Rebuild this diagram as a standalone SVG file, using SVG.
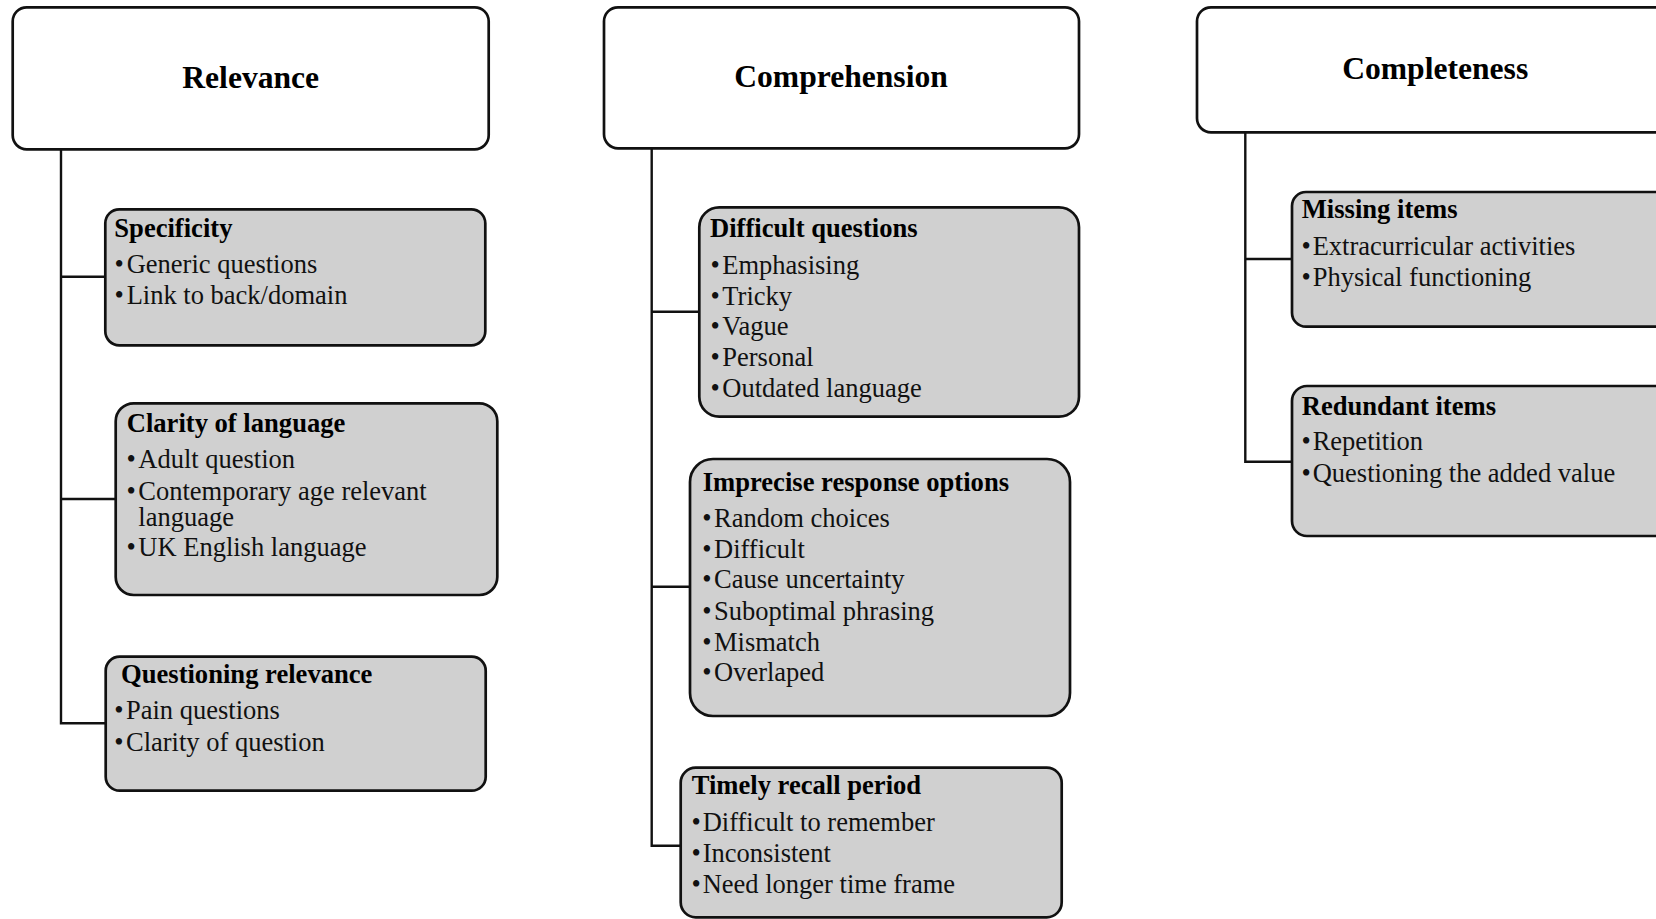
<svg xmlns="http://www.w3.org/2000/svg" width="1656" height="919" viewBox="0 0 1656 919">
  <style>
    .root { fill: #ffffff; stroke: #111111; stroke-width: 2.7; }
    .sub { fill: #d0d0d0; stroke: #111111; stroke-width: 2.7; }
    .title { font-family: "Liberation Serif", "Times New Roman", serif; font-weight: bold; font-size: 31.6px; fill: #000; text-anchor: middle; }
    .head { font-family: "Liberation Serif", "Times New Roman", serif; font-weight: bold; font-size: 26.6px; fill: #000; }
    .item { font-family: "Liberation Serif", "Times New Roman", serif; font-size: 26.5px; fill: #111; }
    .conn { fill: none; stroke: #111111; stroke-width: 2.4; }
  </style>
  <rect width="1656" height="919" fill="#ffffff"/>

  <!-- tree connectors -->
  <g id="connectors">
    <path class="conn" d="M61 149 V723.3 H105.7"/>
    <path class="conn" d="M61 276.7 H105.3"/>
    <path class="conn" d="M61 499 H115.7"/>
    <path class="conn" d="M651.7 148.3 V845.7 H680.7"/>
    <path class="conn" d="M651.7 311.7 H699.3"/>
    <path class="conn" d="M651.7 586.7 H690"/>
    <path class="conn" d="M1245.3 132.3 V461.7 H1292"/>
    <path class="conn" d="M1245.3 259 H1292"/>
  </g>

  <!-- Relevance column -->
  <g id="relevance">
    <rect class="root" x="12.7" y="7.3" width="476" height="142" rx="14"/>
    <text class="title" x="250.7" y="88.3">Relevance</text>
  </g>
  <g id="specificity">
    <rect class="sub" x="105.3" y="209.3" width="380" height="136" rx="14"/>
    <text class="head" x="114.3" y="236.7">Specificity</text>
    <text class="item" y="272.7"><tspan x="114.5">•</tspan><tspan x="126.7">Generic questions</tspan></text>
    <text class="item" y="304"><tspan x="114.5">•</tspan><tspan x="126.7">Link to back/domain</tspan></text>
  </g>
  <g id="clarity-of-language">
    <rect class="sub" x="115.7" y="403.3" width="381.6" height="191.7" rx="18"/>
    <text class="head" x="126.7" y="432.3">Clarity of language</text>
    <text class="item" y="468.3"><tspan x="126.5">•</tspan><tspan x="138.3">Adult question</tspan></text>
    <text class="item" y="500"><tspan x="126.5">•</tspan><tspan x="138.3">Contemporary age relevant</tspan></text>
    <text class="item" x="138.3" y="526">language</text>
    <text class="item" y="556"><tspan x="126.5">•</tspan><tspan x="138.3">UK English language</tspan></text>
  </g>
  <g id="questioning-relevance">
    <rect class="sub" x="105.7" y="656.7" width="380" height="134" rx="14"/>
    <text class="head" x="121" y="683.3">Questioning relevance</text>
    <text class="item" y="719.3"><tspan x="114.3">•</tspan><tspan x="126">Pain questions</tspan></text>
    <text class="item" y="751"><tspan x="114.3">•</tspan><tspan x="126">Clarity of question</tspan></text>
  </g>

  <!-- Comprehension column -->
  <g id="comprehension">
    <rect class="root" x="604" y="7.3" width="475" height="141" rx="14"/>
    <text class="title" x="841" y="87.3">Comprehension</text>
  </g>
  <g id="difficult-questions">
    <rect class="sub" x="699.3" y="207.3" width="379.7" height="209.4" rx="20"/>
    <text class="head" x="710" y="237.3">Difficult questions</text>
    <text class="item" y="274"><tspan x="710.5">•</tspan><tspan x="722.3">Emphasising</tspan></text>
    <text class="item" y="304.7"><tspan x="710.5">•</tspan><tspan x="722.3">Tricky</tspan></text>
    <text class="item" y="335.4"><tspan x="710.5">•</tspan><tspan x="722.3">Vague</tspan></text>
    <text class="item" y="366.1"><tspan x="710.5">•</tspan><tspan x="722.3">Personal</tspan></text>
    <text class="item" y="396.8"><tspan x="710.5">•</tspan><tspan x="722.3">Outdated language</tspan></text>
  </g>
  <g id="imprecise-response-options">
    <rect class="sub" x="690" y="459" width="380" height="257" rx="23"/>
    <text class="head" x="702.7" y="490.7">Imprecise response options</text>
    <text class="item" y="526.7"><tspan x="702.3">•</tspan><tspan x="714">Random choices</tspan></text>
    <text class="item" y="557.5"><tspan x="702.3">•</tspan><tspan x="714">Difficult</tspan></text>
    <text class="item" y="588.3"><tspan x="702.3">•</tspan><tspan x="714">Cause uncertainty</tspan></text>
    <text class="item" y="619.5"><tspan x="702.3">•</tspan><tspan x="714">Suboptimal phrasing</tspan></text>
    <text class="item" y="650.5"><tspan x="702.3">•</tspan><tspan x="714">Mismatch</tspan></text>
    <text class="item" y="681.3"><tspan x="702.3">•</tspan><tspan x="714">Overlaped</tspan></text>
  </g>
  <g id="timely-recall-period">
    <rect class="sub" x="680.7" y="767.7" width="381" height="149.6" rx="15"/>
    <text class="head" x="691.7" y="794">Timely recall period</text>
    <text class="item" y="830.7"><tspan x="691.5">•</tspan><tspan x="702.7">Difficult to remember</tspan></text>
    <text class="item" y="862.3"><tspan x="691.5">•</tspan><tspan x="702.7">Inconsistent</tspan></text>
    <text class="item" y="893.3"><tspan x="691.5">•</tspan><tspan x="702.7">Need longer time frame</tspan></text>
  </g>

  <!-- Completeness column -->
  <g id="completeness">
    <rect class="root" x="1197" y="7.3" width="476" height="125" rx="14"/>
    <text class="title" x="1435.2" y="79">Completeness</text>
  </g>
  <g id="missing-items">
    <rect class="sub" x="1292" y="192" width="380" height="134.7" rx="14"/>
    <text class="head" x="1301.7" y="218.3">Missing items</text>
    <text class="item" y="255"><tspan x="1301.5">•</tspan><tspan x="1312.7">Extracurricular activities</tspan></text>
    <text class="item" y="286"><tspan x="1301.5">•</tspan><tspan x="1312.7">Physical functioning</tspan></text>
  </g>
  <g id="redundant-items">
    <rect class="sub" x="1292" y="386" width="380" height="150" rx="15"/>
    <text class="head" x="1301.7" y="415">Redundant items</text>
    <text class="item" y="450"><tspan x="1301.5">•</tspan><tspan x="1312.7">Repetition</tspan></text>
    <text class="item" y="481.7"><tspan x="1301.5">•</tspan><tspan x="1312.7">Questioning the added value</tspan></text>
  </g>
</svg>
